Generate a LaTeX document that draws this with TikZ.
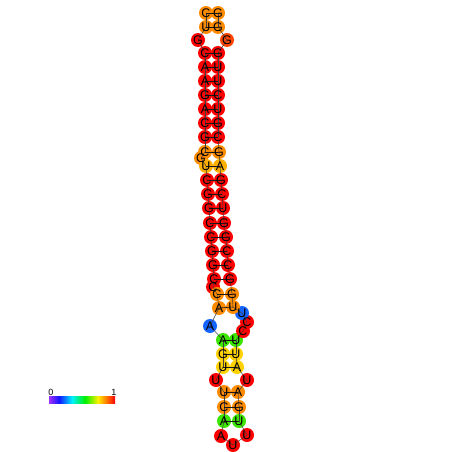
\documentclass[tikz,border=0pt]{standalone}
\usepackage{fontspec}
\setmainfont{Liberation Sans}
\definecolor{cR}{RGB}{255,0,0}
\definecolor{cRO}{RGB}{255,70,0}
\definecolor{cO}{RGB}{255,140,0}
\definecolor{cOY}{RGB}{255,175,0}
\definecolor{cY}{RGB}{255,210,0}
\definecolor{cG}{RGB}{60,230,0}
\definecolor{cB}{RGB}{20,100,255}
\definecolor{bP}{RGB}{160,50,255}
\definecolor{bB}{RGB}{20,20,255}
\definecolor{bC}{RGB}{0,240,255}
\definecolor{bG}{RGB}{0,240,0}
\definecolor{bY}{RGB}{255,240,0}
\definecolor{bR}{RGB}{255,0,0}
\begin{document}
\begin{tikzpicture}[x=1pt,y=-1pt,
  ntdisk/.style={circle,minimum size=14pt,inner sep=0pt,fill=#1},
  ntlabel/.style={inner sep=0pt,font=\fontsize{12.5}{12.5}\selectfont},
  bb/.style={draw=black!75,line width=0.5pt},
  bp/.style={draw=black!90,line width=0.6pt}]
\useasboundingbox (0,0) rectangle (452,452);
\fill[white] (0,0) rectangle (452,452);
\foreach \i/\x/\y/\c in {
 1/206/13/cO, 2/206/27/cO, 3/198/40/cR, 4/205/53/cR, 5/205/67/cR, 6/205/81/cR,
 7/205/95/cR, 8/205/109/cR, 9/205/123/cR, 10/205/137/cR, 12/201/158/cO, 11/205/152/cO,
 13/206/166/cOY, 14/207/180/cR, 15/208/194/cR, 16/209/208/cR, 17/210/223/cR,
 18/211/237/cR, 19/212/251/cR, 20/213/265/cR, 21/214/279/cR, 22/213/287/cR,
 23/217/294/cO, 24/219/308/cO, 25/210/326/cB, 26/223/340/cG, 27/223/354/cY,
 28/223/367/cY, 29/216/380/cR, 30/224/392/cO, 31/224/407/cO, 32/224/421/cG,
 33/221/436/cR, 34/233/445/cR, 35/247/435/cR, 36/239/421/cG, 37/239/407/cO,
 38/238/392/cO, 39/247/380/cR, 40/237/367/cY, 41/236/354/cY, 42/236/340/cG,
 43/243/331/cR, 44/247/322/cR, 45/242/313/cB, 46/233/307/cO, 47/232/294/cO,
 48/230/279/cR, 49/228/265/cR, 50/227/251/cR, 51/226/237/cR, 52/224/223/cR,
 53/223/208/cR, 54/222/194/cR, 55/221/180/cR, 56/220/166/cOY, 57/219/152/cO,
 58/218/137/cR, 59/218/123/cR, 60/218/109/cR, 61/218/95/cR, 62/218/81/cR,
 63/218/67/cR, 64/218/53/cR, 65/227/40/cRO, 66/218/27/cO, 67/218/13/cO}
 \node[ntdisk=\c] (n\i) at (\x,\y) {};
% backbone
\foreach \a [evaluate=\a as \b using int(\a+1)] in {1,...,66}
 \draw[bb] (n\a.center) -- (n\b.center);
% base pairs
\foreach \a/\b in {1/67,2/66,4/64,5/63,6/62,7/61,8/60,9/59,10/58,11/57,13/56,
 14/55,15/54,16/53,17/52,18/51,19/50,20/49,21/48,23/47,24/46,26/42,27/41,28/40,
 30/38,31/37,32/36}
 \draw[bp] (n\a.center) -- (n\b.center);
% letters
\foreach \i/\l in {1/C,2/U,3/G,4/C,5/A,6/A,7/G,8/A,9/C,10/G,12/G,11/C,13/U,14/C,
 15/G,16/G,17/C,18/C,19/G,20/G,22/C,21/C,23/C,24/A,25/A,26/A,27/G,28/U,29/U,30/U,
 31/C,32/A,33/A,34/U,35/U,36/U,37/G,38/A,39/U,40/A,41/U,42/U,43/C,44/C,45/U,46/U,
 47/G,48/G,49/C,50/C,51/G,52/G,53/U,54/C,55/G,56/A,57/G,58/C,59/G,60/U,61/C,62/U,
 63/U,64/G,65/G,66/G,67/G}
 \node[ntlabel] (t\i) at (n\i) {\l};
% colour bar
\shade[left color=bP,right color=bB] (49,396) rectangle (59,403);
\shade[left color=bB,right color=bC] (59,396) rectangle (72,403);
\shade[left color=bC,right color=bG] (72,396) rectangle (85,403);
\shade[left color=bG,right color=bY] (85,396) rectangle (98,403);
\shade[left color=bY,right color=bR] (98,396) rectangle (115,403);
\node[font=\fontsize{9}{9}\selectfont,inner sep=0pt] (lab0) at (51,392) {0};
\node[font=\fontsize{9}{9}\selectfont,inner sep=0pt] (lab1) at (114,392) {1};
\end{tikzpicture}
\end{document}
